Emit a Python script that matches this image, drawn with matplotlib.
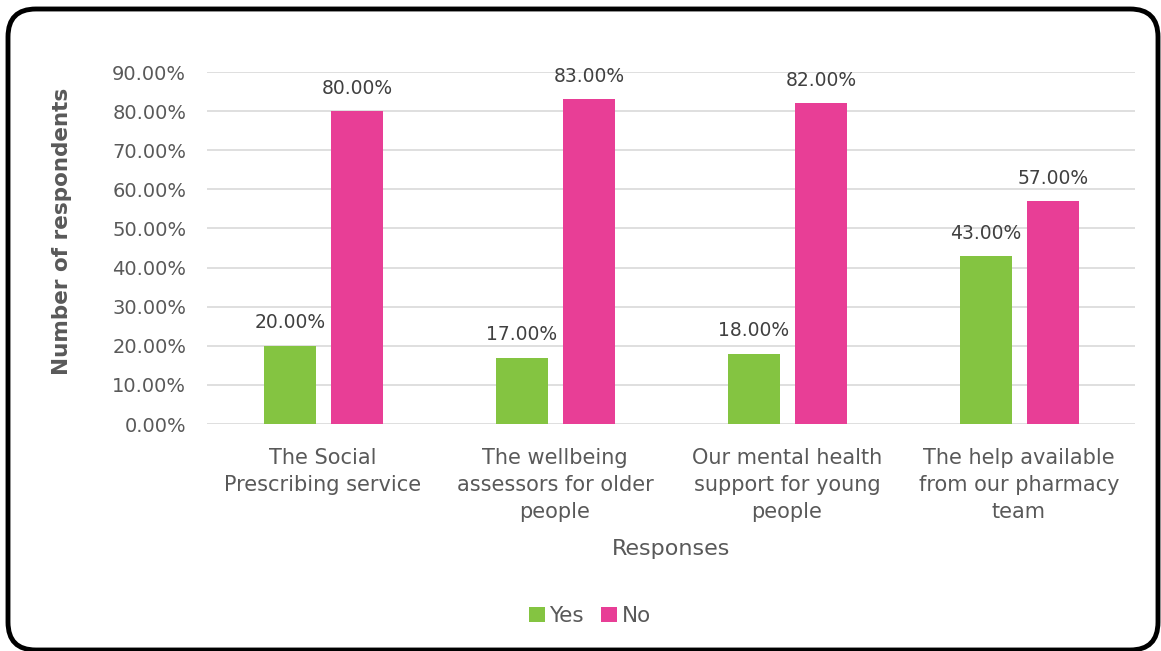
import matplotlib
matplotlib.use("Agg")
import matplotlib.pyplot as plt
import numpy as np
from matplotlib.patches import FancyBboxPatch
from matplotlib.ticker import FuncFormatter, MultipleLocator

categorias = [
    "The Social\nPrescribing service",
    "The wellbeing\nassessors for older\npeople",
    "Our mental health\nsupport for young\npeople",
    "The help available\nfrom our pharmacy\nteam",
]
sim = [20.0, 17.0, 18.0, 43.0]
nao = [80.0, 83.0, 82.0, 57.0]

COR_SIM = "#84C441"
COR_NAO = "#E83E96"
COR_TXT = "#595959"

W, H = 1161, 651

plt.rcParams.update({
    "font.family": "DejaVu Sans",
    "font.size": 13,
    "text.color": COR_TXT,
    "axes.labelcolor": COR_TXT,
    "xtick.color": COR_TXT,
    "ytick.color": COR_TXT,
})

fig = plt.figure(figsize=(W / 100, H / 100), dpi=100)
ax = fig.add_axes([207 / W, 1 - 424 / H, 928 / W, (424 - 72) / H])

# moldura arredondada em volta de tudo
frame = FancyBboxPatch((8 / W, 1 - 650 / H), 1150 / W, 641 / H,
                       boxstyle="round,pad=0,rounding_size=0.024",
                       transform=fig.transFigure, fill=False, lw=3.5, ec="black",
                       mutation_aspect=W / H)
fig.patches.append(frame)

x = np.arange(len(categorias))
w = 0.224
b1 = ax.bar(x - 0.142, sim, w, color=COR_SIM, label="Yes")
b2 = ax.bar(x + 0.147, nao, w, color=COR_NAO, label="No")

for bars, vals in ((b1, sim), (b2, nao)):
    for b, v in zip(bars, vals):
        ax.text(b.get_x() + b.get_width() / 2, v + 3.4, f"{v:.2f}%",
                ha="center", va="bottom", fontsize=13.5, color="#404040")

ax.set_xlim(-0.5, 3.5)
ax.set_ylim(0, 90)
ax.yaxis.set_major_locator(MultipleLocator(10))
ax.yaxis.set_major_formatter(FuncFormatter(lambda v, _: f"{v:.2f}%"))
ax.set_xticks(x)
ax.set_xticklabels(categorias, fontsize=15, linespacing=1.45)
ax.tick_params(axis="both", length=0)
ax.tick_params(axis="y", pad=15, labelsize=14)
ax.tick_params(axis="x", pad=17)
ax.grid(axis="y", color="#D9D9D9", lw=1.2)
ax.set_axisbelow(True)
for s in ax.spines.values():
    s.set_visible(False)

ax.set_ylabel("Number of respondents", fontsize=15.5, fontweight="bold")
ax.yaxis.set_label_coords(-0.145, 0.548)
ax.set_xlabel("Responses", fontsize=16, labelpad=12)
fig.legend(handles=[b1, b2], loc="center", bbox_to_anchor=(590 / W, 1 - 616 / H),
           ncol=2, frameon=False, fontsize=15.5, handlelength=0.75, handleheight=0.75,
           handletextpad=0.2, columnspacing=0.8)

fig.savefig("out.png", dpi=100)
